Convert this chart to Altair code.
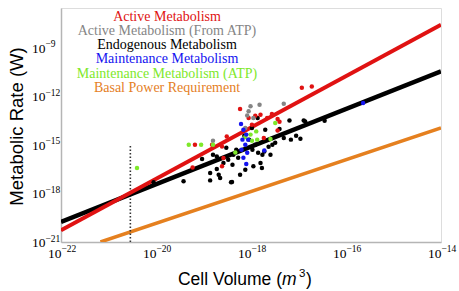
import altair as alt
import pandas as pd

# ---------------- data (log10 values) ----------------
# straight power-law lines: endpoints (log10 volume, log10 rate)
red_line_lx = [-22.0, -14.0]
red_line_ly = [-20.28, -7.56]
black_line_lx = [-22.0, -14.0]
black_line_ly = [-19.76, -10.45]
orange_line_lx = [-21.17, -14.0]
orange_line_ly = [-21.0, -13.95]
dotted_lx = [-20.54, -20.54]
dotted_ly = [-21.0, -14.98]

# scatter points: Endogenous (black)
black_lx = [-17.19, -16.89, -16.86, -16.45, -17.40, -17.31, -17.16, -17.05, -16.96, -19.03,
            -19.42, -18.86, -18.72, -18.68, -18.86, -18.65, -18.40, -18.72, -18.80, -18.58,
            -17.80, -17.95, -17.77, -17.98, -17.70, -17.86, -20.05, -18.42, -17.76, -17.72,
            -18.48, -18.37, -18.31, -18.27, -18.39, -17.97, -17.91, -17.85, -17.63, -17.55,
            -17.59, -17.49, -18.12, -18.23, -18.52, -18.04, -18.14]
black_ly = [-13.48, -13.48, -13.54, -13.50, -14.01, -14.57, -14.67, -14.43, -14.61, -15.87,
            -17.25, -16.73, -16.49, -16.84, -17.19, -17.04, -17.29, -15.71, -15.60, -16.11,
            -16.11, -16.32, -16.42, -13.95, -14.06, -13.33, -17.31, -17.31, -15.60, -15.40,
            -15.91, -15.60, -15.29, -15.79, -16.22, -15.29, -14.98, -15.48, -15.11, -14.98,
            -15.60, -14.86, -16.53, -16.84, -15.17, -14.67, -14.43]
# Active (red)
red_lx = [-16.93, -16.72, -17.44, -17.40, -17.44, -19.18, -19.23, -18.58, -18.23, -18.05,
          -17.80, -17.56, -17.73, -17.91, -17.66, -18.61, -18.82, -18.51, -17.98, -18.61]
red_ly = [-11.46, -11.38, -13.39, -13.56, -14.10, -14.98, -16.39, -15.81, -12.77, -13.33,
          -13.13, -13.08, -14.57, -13.19, -13.33, -15.09, -14.98, -14.47, -13.75, -16.32]
# Active from ATP (gray)
gray_lx = [-17.31, -18.80, -18.01, -17.82, -18.05, -18.08, -17.95, -18.12]
gray_ly = [-12.45, -14.74, -12.61, -12.51, -12.92, -13.17, -13.33, -13.95]
# Maintenance ATP (green)
green_lx = [-19.31, -19.05, -18.80, -20.40, -18.01, -17.87, -18.33, -17.59, -17.89, -17.49,
            -17.98, -18.12]
green_ly = [-14.98, -14.98, -14.98, -16.42, -14.36, -14.67, -15.46, -14.63, -14.16, -13.64,
            -14.74, -14.51]
# Maintenance (blue)
blue_lx = [-18.21, -18.16, -18.10, -18.18, -18.12, -18.20, -18.08, -18.16, -18.10, -17.72,
           -15.64, -18.06]
blue_ly = [-13.70, -14.06, -14.36, -14.67, -14.98, -15.29, -15.48, -15.79, -16.18, -15.34,
           -12.40, -14.67]

legend_texts = ["Active Metabolism", "Active Metabolism (From ATP)", "Endogenous Metabolism",
                "Maintenance Metabolism", "Maintenance Metabolism (ATP)", "Basal Power Requirement"]
legend_colors = ["#e01212", "#858585", "#000000", "#1414f0", "#7ee82a", "#e5801f"]

x_tick_exps = [-22, -20, -18, -16, -14]
y_tick_exps = [-21, -18, -15, -12, -9]
x_domain_exps = [-22, -14]
y_domain_exps = [-21, -6.53]

# ---------------- helpers ----------------
def frame(lx, ly):
    return pd.DataFrame({"vol": [10.0 ** v for v in lx], "rate": [10.0 ** v for v in ly]})


xscale = alt.Scale(type="log", domain=[10.0 ** v for v in x_domain_exps], nice=False)
yscale = alt.Scale(type="log", domain=[10.0 ** v for v in y_domain_exps], nice=False)

xaxis = alt.Axis(values=[10.0 ** e for e in x_tick_exps], labels=False,
                 title=None, grid=False, ticks=False, tickSize=0,
                 domainColor="#b5b5b5", domainWidth=1.5)
yaxis = alt.Axis(values=[10.0 ** e for e in y_tick_exps], labels=False,
                 title="Metabolic Rate (W)", titleFont="Liberation Sans", titleFontSize=18.5,
                 titleFontWeight="normal", titleColor="#000", titleX=-39, titleY=118,
                 titleBaseline="alphabetic", titleAngle=270, titleAlign="center",
                 grid=False, ticks=False, tickSize=0,
                 domainColor="#b5b5b5", domainWidth=1.5)

X = alt.X("vol:Q", scale=xscale, axis=xaxis)
Y = alt.Y("rate:Q", scale=yscale, axis=yaxis)
Xn = alt.X("vol:Q", scale=xscale)
Yn = alt.Y("rate:Q", scale=yscale)

base_axes = alt.Chart(frame(red_line_lx, red_line_ly)).mark_line(opacity=0).encode(x=X, y=Y)

red_line = alt.Chart(frame(red_line_lx, red_line_ly)).mark_line(
    color=legend_colors[0], strokeWidth=4, clip=True).encode(x=Xn, y=Yn)
black_line = alt.Chart(frame(black_line_lx, black_line_ly)).mark_line(
    color="#000000", strokeWidth=4.5, clip=True).encode(x=Xn, y=Yn)
orange_line = alt.Chart(frame(orange_line_lx, orange_line_ly)).mark_line(
    color=legend_colors[5], strokeWidth=3.5, clip=True).encode(x=Xn, y=Yn)
dotted = alt.Chart(frame(dotted_lx, dotted_ly)).mark_line(
    color="#333333", strokeWidth=1.6, strokeDash=[1.5, 2.0]).encode(x=Xn, y=Yn)


def pts(lx, ly, color):
    return alt.Chart(frame(lx, ly)).mark_circle(size=20, opacity=1, color=color).encode(x=Xn, y=Yn)


points = [pts(black_lx, black_ly, "#000000"), pts(red_lx, red_ly, legend_colors[0]),
          pts(gray_lx, gray_ly, legend_colors[1]), pts(green_lx, green_ly, legend_colors[4]),
          pts(blue_lx, blue_ly, legend_colors[3])]

# ---------------- tick labels: "10" with a raised exponent ----------------
xt = pd.DataFrame({"vol": [10.0 ** e for e in x_tick_exps],
                   "base": ["10"] * len(x_tick_exps),
                   "exp": ["\u2212" + str(-e) for e in x_tick_exps]})
yt = pd.DataFrame({"rate": [10.0 ** e for e in y_tick_exps],
                   "base": ["10"] * len(y_tick_exps),
                   "exp": ["\u2212" + str(-e) for e in y_tick_exps]})
LF = "Liberation Serif"
x_base = alt.Chart(xt).mark_text(font=LF, fontSize=13.5, align="right", baseline="alphabetic",
                                 color="#000", dx=0.5).encode(
    x=Xn, y=alt.value(249.5), text="base:N")
x_exp = alt.Chart(xt).mark_text(font=LF, fontSize=9.5, align="left", baseline="alphabetic",
                                color="#000", dx=0.5).encode(
    x=Xn, y=alt.value(243.5), text="exp:N")
y_base = alt.Chart(yt).mark_text(font=LF, fontSize=13.5, align="left", baseline="alphabetic",
                                 color="#000", dy=5).encode(
    y=Yn, x=alt.value(-29), text="base:N")
y_exp = alt.Chart(yt).mark_text(font=LF, fontSize=9.5, align="left", baseline="alphabetic",
                                color="#000", dy=-0.5).encode(
    y=Yn, x=alt.value(-15.5), text="exp:N")

# legend text (centered block at upper left)
legend_layers = []
for i, (t, c) in enumerate(zip(legend_texts, legend_colors)):
    legend_layers.append(
        alt.Chart(pd.DataFrame({"t": [t]})).mark_text(
            font="Liberation Serif", fontSize=14, color=c, align="center", baseline="alphabetic"
        ).encode(text="t:N", x=alt.value(106), y=alt.value(12.8 + 14.2 * i))
    )

# x-axis title composed: "Cell Volume (" + italic m + superscript 3 + ")"
title_parts = [("Cell Volume (", "normal", 17.5, "right", 221, 277),
               ("m", "italic", 17.5, "left", 221, 277),
               ("3", "normal", 11.5, "left", 238, 269),
               (")", "normal", 17.5, "left", 245, 277)]
title_layers = []
for t, style, fs, al, px, py in title_parts:
    title_layers.append(
        alt.Chart(pd.DataFrame({"t": [t]})).mark_text(
            font="Liberation Sans", fontSize=fs, fontStyle=style, color="#000",
            align=al, baseline="alphabetic"
        ).encode(text="t:N", x=alt.value(px), y=alt.value(py))
    )

chart = alt.layer(
    base_axes, orange_line, dotted, black_line, red_line, *points,
    x_base, x_exp, y_base, y_exp, *legend_layers, *title_layers
).properties(
    width=380, height=234,
    padding={"left": 61, "top": 8, "right": 18, "bottom": 49},
    autosize=alt.AutoSizeParams(type="none"),
).configure_view(stroke=None).configure(background="white")

chart.save("out.html", embed_options={"renderer": "svg", "actions": False})
